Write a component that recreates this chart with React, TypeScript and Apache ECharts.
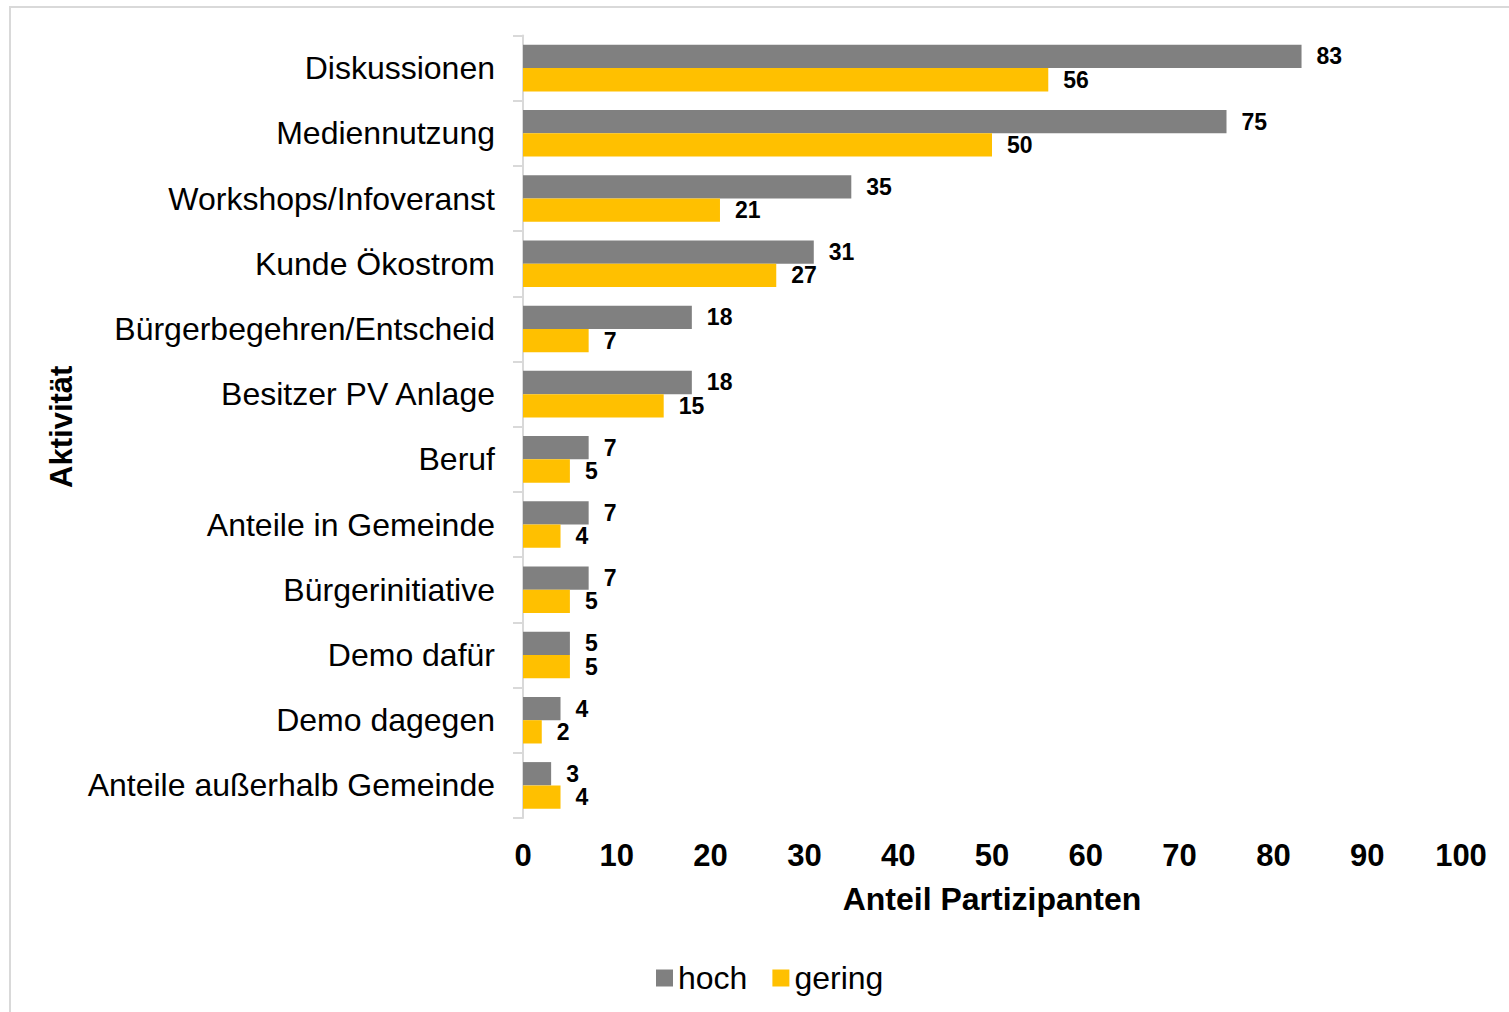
import React, { useEffect, useRef } from "react";
import * as echarts from "echarts";

const categories = [
  "Diskussionen",
  "Mediennutzung",
  "Workshops/Infoveranst",
  "Kunde Ökostrom",
  "Bürgerbegehren/Entscheid",
  "Besitzer PV Anlage",
  "Beruf",
  "Anteile in Gemeinde",
  "Bürgerinitiative",
  "Demo dafür",
  "Demo dagegen",
  "Anteile außerhalb Gemeinde",
];
const hochValues = [83, 75, 35, 31, 18, 18, 7, 7, 7, 5, 4, 3];
const geringValues = [56, 50, 21, 27, 7, 15, 5, 4, 5, 5, 2, 4];
const seriesNames = ["hoch", "gering"];
const xAxisTitle = "Anteil Partizipanten";
const yAxisTitle = "Aktivität";

const FONT = "'Liberation Sans', Arial, sans-serif";

export default function App() {
  const ref = useRef<HTMLDivElement>(null);
  useEffect(() => {
    if (!ref.current) return;
    const chart = echarts.init(ref.current, null, { renderer: "svg" });
    const labelStyle = {
      show: true,
      position: "right" as const,
      distance: 15,
      fontFamily: FONT,
      fontSize: 23,
      lineHeight: 21,
      fontWeight: "bold" as const,
      color: "#000",
    };
    chart.setOption({
      animation: false,
      backgroundColor: "#fff",
      textStyle: { fontFamily: FONT },
      graphic: [
        {
          type: "rect",
          shape: { x: 10, y: 7, width: 1700, height: 1200 },
          style: { fill: "none", stroke: "#d9d9d9", lineWidth: 2 },
          silent: true,
        },
      ],
      grid: { left: 523, right: 48, top: 35.5, bottom: 194, containLabel: false },
      legend: {
        left: 651,
        top: 957,
        itemWidth: 17,
        itemHeight: 17,
        itemGap: 25,
        icon: "rect",
        textStyle: { fontFamily: FONT, fontSize: 32, color: "#000" },
        data: seriesNames,
      },
      xAxis: {
        type: "value",
        min: 0,
        max: 100,
        interval: 10,
        name: xAxisTitle,
        nameLocation: "middle",
        nameGap: 65,
        nameTextStyle: { fontFamily: FONT, fontSize: 32, fontWeight: "bold", color: "#000" },
        axisLine: { show: false },
        axisTick: { show: false },
        splitLine: { show: false },
        axisLabel: { fontFamily: FONT, fontSize: 31, fontWeight: "bold", color: "#000", margin: 22 },
      },
      yAxis: {
        type: "category",
        inverse: true,
        data: categories,
        name: yAxisTitle,
        nameLocation: "middle",
        nameRotate: 90,
        nameGap: 445,
        nameTextStyle: { fontFamily: FONT, fontSize: 31, fontWeight: "bold", color: "#000" },
        axisLine: { show: true, lineStyle: { color: "#d9d9d9", width: 2 } },
        axisTick: { show: true, length: 10, lineStyle: { color: "#d9d9d9", width: 2 } },
        axisLabel: { fontFamily: FONT, fontSize: 32, color: "#000", margin: 28 },
      },
      series: [
        {
          name: seriesNames[0],
          type: "bar",
          data: hochValues,
          barWidth: 23.3,
          barGap: "0%",
          itemStyle: { color: "#808080" },
          label: labelStyle,
        },
        {
          name: seriesNames[1],
          type: "bar",
          data: geringValues,
          barWidth: 23.3,
          barGap: "0%",
          itemStyle: { color: "#FFC000" },
          label: labelStyle,
        },
      ],
    });
    return () => chart.dispose();
  }, []);
  return (
    <div
      ref={ref}
      style={{ position: "fixed", left: 0, top: 0, width: 1509, height: 1012, background: "#fff" }}
    />
  );
}
